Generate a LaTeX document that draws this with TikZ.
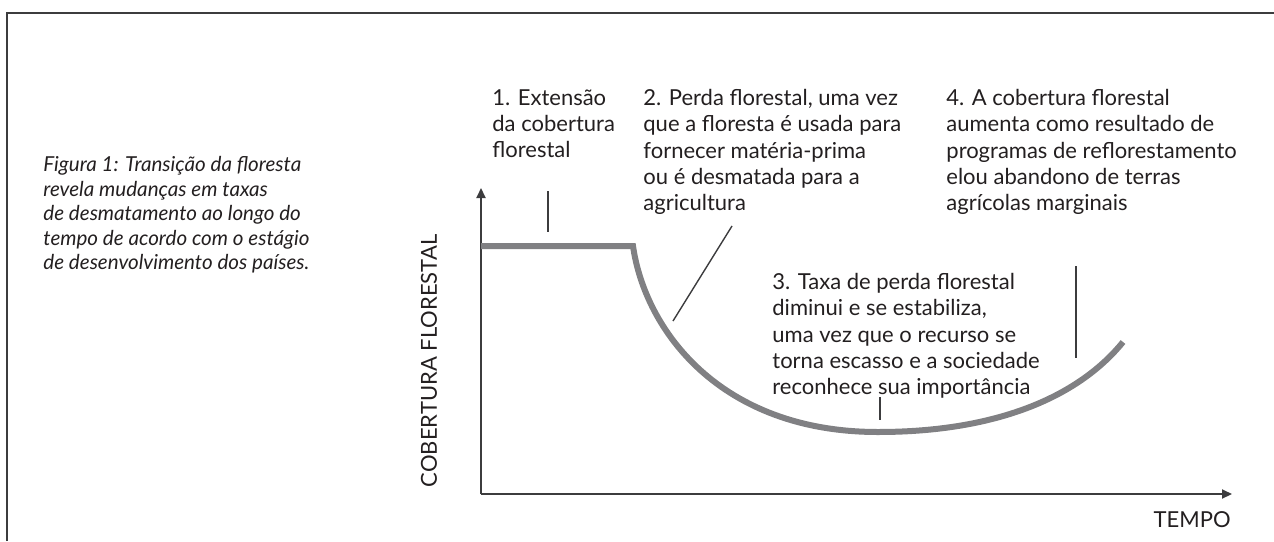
\documentclass[tikz,border=0pt]{standalone}
\usepackage{fontspec}
\setmainfont{Lato}
\usetikzlibrary{arrows.meta}
\definecolor{curvegray}{HTML}{808083}
\definecolor{axisgray}{HTML}{3C3C3E}
\definecolor{txt}{HTML}{231F20}
\tikzset{
  label text/.style={anchor=north west,align=left,inner sep=0pt,text=txt,
    font=\fontsize{11}{13.1}\selectfont},
  axis/.style={axisgray,line width=1pt,-{Triangle[length=5pt,width=4.5pt]}},
  tick/.style={axisgray,line width=0.7pt},
}
\begin{document}
\begin{tikzpicture}[x=0.5pt,y=-0.5pt]
    \useasboundingbox (0,0) rectangle (1274,541);
    % frame
    \draw[axisgray,line width=1.2pt] (7,541) -- (7,13) -- (1274,13);

    % caption
    \node[label text,font=\fontsize{10.3}{12.3}\selectfont\itshape] (caption) at (43,156)
      {Figura 1: Transição da floresta\\revela mudanças em taxas\\de desmatamento ao longo do\\tempo de acordo com o estágio\\de desenvolvimento dos países.};

    % axes
    \coordinate (O) at (481,494);
    \coordinate (ytop) at (481,188);
    \coordinate (xend) at (1232,494);
    \draw[axis] (O) -- (ytop);
    \draw[axis] (O) -- (xend);
    \node[rotate=90,text=txt,inner sep=0pt,font=\fontsize{11}{13}\selectfont] (ylab) at (429,361) {COBERTURA FLORESTAL};
    \node[anchor=base east,text=txt,inner sep=0pt,font=\fontsize{11}{13}\selectfont] (xlab) at (1231,527) {TEMPO};

    % forest cover curve
    \coordinate (c0) at (481,246);
    \coordinate (c1) at (633,246);
    \coordinate (c2) at (878,432);
    \coordinate (c3) at (1123,342);
    \draw[curvegray,line width=3pt] (c0) -- (c1)
      .. controls (645,330) and (720,432) .. (c2)
      .. controls (1000,432) and (1080,395) .. (c3);

    % labels
    \node[label text] (s1) at (492,89) {1. Extensão\\da cobertura\\florestal};
    \node[label text] (s2) at (643,89) {2. Perda florestal, uma vez\\que a floresta é usada para\\fornecer matéria-prima\\ou é desmatada para a\\agricultura};
    \node[label text] (s3) at (772,273) {3. Taxa de perda florestal\\diminui e se estabiliza,\\uma vez que o recurso se\\torna escasso e a sociedade\\reconhece sua importância};
    \node[label text] (s4) at (946,89) {4. A cobertura florestal\\aumenta como resultado de\\programas de reflorestamento\\elou abandono de terras\\agrícolas marginais};

    % pointer lines
    \coordinate (t1a) at (548,191);
    \coordinate (t1b) at (548,232);
    \coordinate (t2a) at (732,226);
    \coordinate (t2b) at (673,321);
    \coordinate (t3a) at (880,397);
    \coordinate (t3b) at (880,420);
    \coordinate (t4a) at (1076,266);
    \coordinate (t4b) at (1076,358);
    \draw[tick] (t1a) -- (t1b);
    \draw[tick] (t2a) -- (t2b);
    \draw[tick] (t3a) -- (t3b);
    \draw[tick] (t4a) -- (t4b);
\end{tikzpicture}
\end{document}
